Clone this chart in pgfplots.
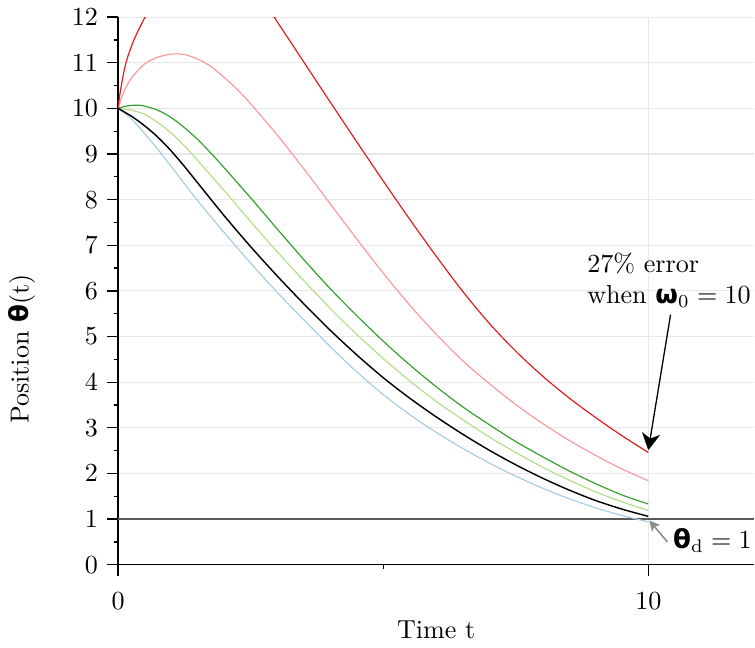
\documentclass[border=0pt]{standalone}
\usepackage{fontspec}
\newfontfamily\grk{DejaVu Sans}
\usepackage{pgfplots}
\pgfplotsset{compat=1.18}
\usetikzlibrary{arrows.meta}
\definecolor{pBlue}{HTML}{A6CEE3}
\definecolor{pLGreen}{HTML}{B2DF8A}
\definecolor{pGreen}{HTML}{33A02C}
\definecolor{pPink}{HTML}{FB9A99}
\definecolor{pRed}{HTML}{E31A1C}
\newcommand{\gth}{{\grk\bfseries θ}}
\newcommand{\gom}{{\grk\bfseries ω}}

\begin{document}
\begin{tikzpicture}
\begin{axis}[
  scale only axis,
  width=244pt, height=210pt,
  xmin=0, xmax=12, ymin=0, ymax=12,
  axis lines*=left,
  axis line style={line width=0.5pt},
  tick align=outside,
  major tick length=4.2pt, minor tick length=1.6pt,
  tick style={black, line width=0.5pt},
  xtick={0,10}, minor xtick={5},
  ytick={0,1,...,12}, minor ytick={0.5,1.5,...,11.5},
  grid=major,
  major grid style={black!9, line width=0.4pt},
  xticklabel shift=2.9pt,
  xlabel={Time t},
  ylabel={Position \gth(t)},
  xlabel style={at={(axis description cs:0.5,-0.135)}, anchor=base},
  ylabel style={at={(axis description cs:-0.151,0.394)}, anchor=center},
  clip mode=individual,
  every axis plot/.append style={smooth, line width=0.45pt},
]

\addplot[color=black!65, line width=0.6pt, sharp plot] coordinates {(0,1) (12,1)};

\addplot[color=pBlue] coordinates {
  (0,10) (0.25,9.77) (0.5,9.45) (0.75,9.10) (1,8.73) (1.5,7.98) (2,7.28)
  (2.5,6.61) (3,5.97) (3.5,5.37) (4,4.78) (4.5,4.23) (5,3.73) (5.5,3.29)
  (6,2.90) (6.5,2.55) (7,2.23) (7.5,1.94) (8,1.68) (8.5,1.45) (9,1.25)
  (9.5,1.08) (10,0.94)
};
\addplot[color=pLGreen] coordinates {
  (0,10) (0.25,9.96) (0.5,9.87) (0.75,9.69) (1,9.46) (1.25,9.18) (1.5,8.86)
  (2,8.20) (2.5,7.52) (3,6.86) (3.5,6.23) (4,5.62) (4.5,5.05) (5,4.52)
  (5.5,4.03) (6,3.58) (6.5,3.18) (7,2.80) (7.5,2.46) (8,2.14) (8.5,1.86)
  (9,1.60) (9.5,1.38) (10,1.19)
};
\addplot[color=pGreen] coordinates {
  (0,10) (0.15,10.05) (0.35,10.07) (0.5,10.05) (0.75,9.96) (1,9.80)
  (1.25,9.58) (1.5,9.32) (1.75,9.02) (2,8.70) (2.5,8.04) (3,7.36) (3.5,6.69)
  (4,6.05) (4.5,5.46) (5,4.90) (5.5,4.38) (6,3.90) (6.5,3.46) (7,3.07)
  (7.5,2.70) (8,2.37) (8.5,2.06) (9,1.78) (9.5,1.53) (10,1.33)
};
\addplot[color=pPink] coordinates {
  (0,10) (0.1,10.34) (0.25,10.66) (0.5,10.97) (0.75,11.12) (1,11.19)
  (1.25,11.18) (1.5,11.08) (1.75,10.92) (2,10.68) (2.25,10.41) (2.5,10.10)
  (3,9.42) (3.5,8.68) (4,7.91) (4.5,7.14) (5,6.39) (5.5,5.69) (6,5.05)
  (6.5,4.47) (7,3.97) (7.5,3.51) (8,3.10) (8.5,2.73) (9,2.40) (9.5,2.10) (10,1.84)
};
\addplot[color=pRed] coordinates {
  (0,10) (0.05,10.42) (0.15,11) (0.3,11.5) (0.51,12) (0.8,12.6) (1.1,13.0)
  (1.5,13.26) (2,13.1) (2.5,12.63) (2.94,12.0) (3,11.90) (3.5,11.02)
  (4,10.14) (4.5,9.27) (5,8.41) (5.5,7.57) (6,6.76) (6.5,5.99) (7,5.29)
  (7.5,4.68) (8,4.14) (8.5,3.66) (9,3.23) (9.5,2.83) (10,2.46)
};
\addplot[color=black, line width=0.55pt] coordinates {
  (0,10) (0.25,9.83) (0.5,9.62) (0.75,9.37) (1,9.07) (1.25,8.73) (1.5,8.37)
  (2,7.65) (2.5,6.97) (3,6.33) (3.5,5.72) (4,5.14) (4.5,4.60) (5,4.10)
  (5.5,3.65) (6,3.24) (6.5,2.86) (7,2.51) (7.5,2.19) (8,1.90) (8.5,1.64)
  (9,1.41) (9.5,1.22) (10,1.06)
};

\node[anchor=north west, align=left, inner sep=0pt] at (axis cs:8.84,6.84)
  {27\% error\\when \gom$_0 = 10$};
\draw[black, line width=0.5pt, -{Stealth[length=6.5pt,width=7pt,inset=2pt]}]
  (axis cs:10.42,5.48) -- (axis cs:10.0,2.51);

\node[anchor=base west, inner sep=0pt] at (axis cs:10.46,0.35)
  {\gth$_{\mathrm{d}} = 1$};
\draw[black!45, line width=0.6pt, -{Stealth[length=4pt,width=4pt,inset=1pt]}]
  (axis cs:10.36,0.5) -- (axis cs:10.02,0.97);

\end{axis}
\end{tikzpicture}
\end{document}
